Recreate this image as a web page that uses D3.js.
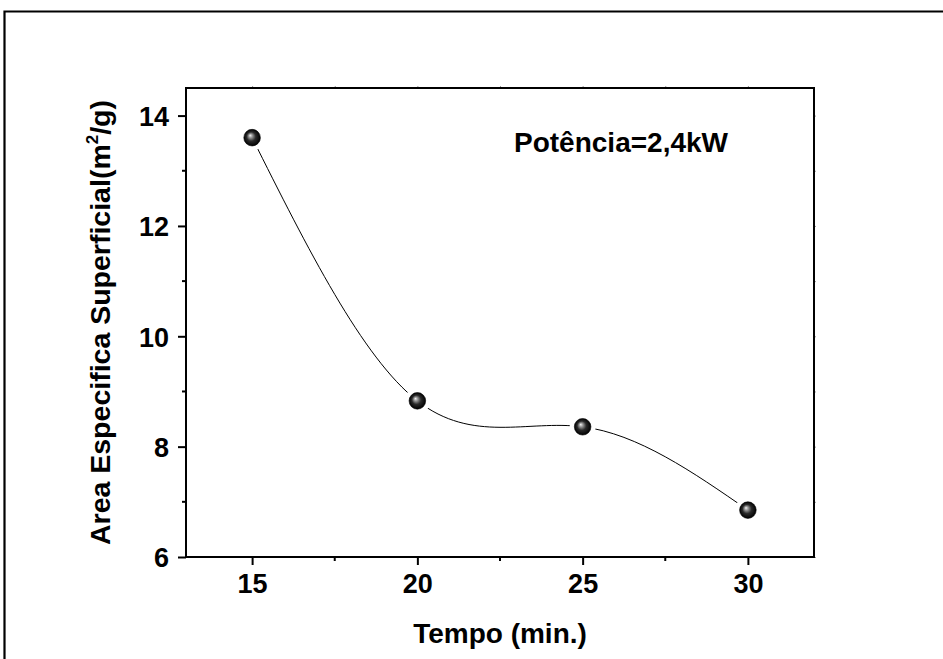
<!DOCTYPE html>
<html>
<head>
<meta charset="utf-8">
<script src="https://cdn.jsdelivr.net/npm/d3@7"></script>
<style>
  html, body { margin: 0; padding: 0; background: #fff; overflow: hidden; }
  svg { display: block; font-family: "Liberation Sans", Arial, sans-serif; }
</style>
</head>
<body>
<svg id="chart" width="943" height="659"></svg>
<script>
// Specific surface area vs. time at 2.4 kW
const tempo = [15, 20, 25, 30];
const area = [13.6, 8.83, 8.36, 6.85];
const xMajorTicks = [15, 20, 25, 30];
const xMinorTicks = [17.5, 22.5, 27.5];
const yMajorTicks = [6, 8, 10, 12, 14];
const yMinorTicks = [7, 9, 11, 13];

const svg = d3.select("#chart");
const W = 943, H = 659;
const plot = { left: 186, right: 814, top: 88, bottom: 557 };

const x = d3.scaleLinear().domain([13, 32]).range([plot.left, plot.right]);
const y = d3.scaleLinear().domain([6, 14.5]).range([plot.bottom, plot.top]);

// page border: only the top and left edges fall inside the page
svg.append("path")
  .attr("d", `M4.5,${H}V11.5H${W}`)
  .attr("fill", "none").attr("stroke", "#000").attr("stroke-width", 2.2);

const defs = svg.append("defs");
const grad = defs.append("radialGradient")
  .attr("id", "ball").attr("cx", "50%").attr("cy", "50%").attr("r", "50%")
  .attr("fx", "38%").attr("fy", "36%");
grad.append("stop").attr("offset", "0%").attr("stop-color", "#f4f4f4");
grad.append("stop").attr("offset", "22%").attr("stop-color", "#9a9a9a");
grad.append("stop").attr("offset", "55%").attr("stop-color", "#2a2a2a");
grad.append("stop").attr("offset", "100%").attr("stop-color", "#000");

const tickFont = 27;

// bottom axis
const xAxis = svg.append("g").attr("transform", `translate(0,${plot.bottom})`)
  .call(d3.axisBottom(x).tickValues(xMajorTicks).tickSize(8).tickPadding(7).tickFormat(d3.format("d")));
xAxis.append("g").selectAll("line").data(xMinorTicks).join("line")
  .attr("x1", d => x(d)).attr("x2", d => x(d)).attr("y1", 0).attr("y2", 4);

// left axis
const yAxis = svg.append("g").attr("transform", `translate(${plot.left},0)`)
  .call(d3.axisLeft(y).tickValues(yMajorTicks).tickSize(8).tickPadding(9).tickFormat(d3.format("d")));
yAxis.append("g").selectAll("line").data(yMinorTicks).join("line")
  .attr("x1", -4).attr("x2", 0).attr("y1", d => y(d)).attr("y2", d => y(d));

// top and right axes: faint stub ticks only
const topAxis = svg.append("g").attr("transform", `translate(0,${plot.top})`)
  .call(d3.axisTop(x).tickValues(xMajorTicks.concat(xMinorTicks)).tickSize(2).tickFormat(""));
const rightAxis = svg.append("g").attr("transform", `translate(${plot.right},0)`)
  .call(d3.axisRight(y).tickValues(yMajorTicks.concat(yMinorTicks)).tickSize(2).tickFormat(""));
[topAxis, rightAxis].forEach(g => {
  g.select(".domain").remove();
  g.selectAll("line").attr("stroke", "#999").attr("stroke-width", 1);
});

[xAxis, yAxis].forEach(g => {
  g.select(".domain").remove();
  g.selectAll("line").attr("stroke", "#000").attr("stroke-width", 2);
  g.selectAll("text")
    .attr("font-family", "'Liberation Sans', Arial, sans-serif")
    .attr("font-size", tickFont).attr("font-weight", "bold").attr("fill", "#000");
});
xAxis.selectAll(".tick text").attr("dy", "0.78em");
yAxis.selectAll(".tick text").attr("dy", "0.36em");

// plot frame
svg.append("rect")
  .attr("x", plot.left).attr("y", plot.top)
  .attr("width", plot.right - plot.left).attr("height", plot.bottom - plot.top)
  .attr("fill", "none").attr("stroke", "#000").attr("stroke-width", 2);

// spline through the points
const pts = tempo.map((t, i) => [t, area[i]]);
const line = d3.line().x(d => x(d[0])).y(d => y(d[1])).curve(d3.curveNatural);
svg.append("path").datum(pts)
  .attr("d", line).attr("fill", "none").attr("stroke", "#000").attr("stroke-width", 1);

// gap around each symbol, then the symbol
svg.append("g").selectAll("circle").data(pts).join("circle")
  .attr("cx", d => x(d[0])).attr("cy", d => y(d[1])).attr("r", 13).attr("fill", "#fff");
svg.append("g").selectAll("circle").data(pts).join("circle")
  .attr("cx", d => x(d[0])).attr("cy", d => y(d[1])).attr("r", 8.3)
  .attr("fill", "url(#ball)").attr("stroke", "#000").attr("stroke-width", 0.6);

// annotation
svg.append("text")
  .attr("x", 514).attr("y", 152)
  .attr("font-size", 28).attr("font-weight", "bold").attr("fill", "#000")
  .text("Potência=2,4kW");

// axis titles
svg.append("text")
  .attr("x", (plot.left + plot.right) / 2).attr("y", 643)
  .attr("text-anchor", "middle")
  .attr("font-size", 28).attr("font-weight", "bold")
  .text("Tempo (min.)");

const yt = svg.append("text")
  .attr("transform", `translate(110,${(plot.top + plot.bottom) / 2}) rotate(-90)`)
  .attr("text-anchor", "middle")
  .attr("font-size", 28.5).attr("font-weight", "bold");
yt.append("tspan").text("Area Especifica Superficial(m");
yt.append("tspan").attr("font-size", 17).attr("dy", -12).text("2");
yt.append("tspan").attr("dy", 12).text("/g)");
</script>
</body>
</html>
